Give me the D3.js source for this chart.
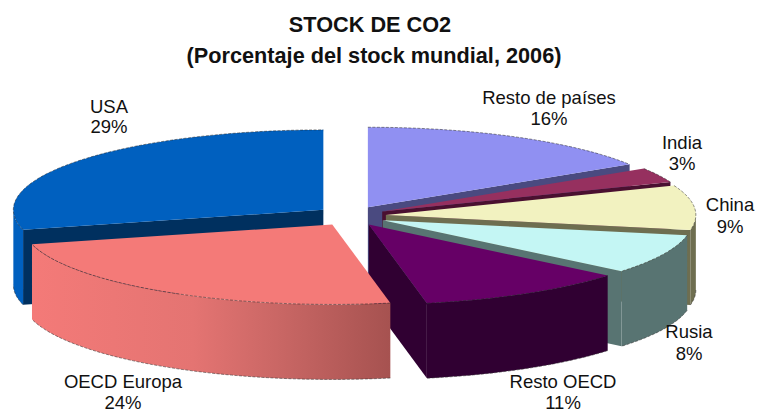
<!DOCTYPE html>
<html><head><meta charset="utf-8">
<style>html,body{margin:0;padding:0;background:#fff}svg{display:block}text{font-family:"Liberation Sans",Arial,sans-serif;fill:#111}</style>
<script src="https://cdn.jsdelivr.net/npm/d3@7"></script>
</head><body>
<svg id="c" width="757" height="414"></svg>
<script>
const categories=["Resto de países","India","China","Rusia","Resto OECD","OECD Europa","USA"];
const values=[16,3,9,8,11,24,29];
const topColors=["#9090f2","#96305f","#f2f2c0","#c4f6f4","#660066","#f47a78","#0060bf"];
const wallColors=["#4a4a80","#4a1030","#6e6e50","#587472","#300032","#f47a78","#00305f"];
const outerColors=["#4a4a80","#4a1030","#6e6e50","#587472","#300032","#f47a78","#0060bf"];
const drawOrder=["Resto de países","USA","India","China","Rusia","Resto OECD","OECD Europa"];
const titleLines=["STOCK DE CO2","(Porcentaje del stock mundial, 2006)"];

const cx=351,cy=216,rx=310,ry=80,ex=35,ey=10,depth=75;
const labelPos={"USA":[109,113,133],"OECD Europa":[123,388,409],"Resto de países":[549,104,125],"India":[682,149,170],"China":[730,211,233],"Rusia":[689,338,360],"Resto OECD":[563,388,409]};

const svg=d3.select("#c");
const defs=svg.append("defs");
const grad=defs.append("linearGradient").attr("id","oecdWall");
[[0,"#f47a78"],[0.45,"#e47472"],[0.7,"#c86664"],[1,"#a65250"]].forEach(s=>grad.append("stop").attr("offset",s[0]).attr("stop-color",s[1]));

const pie=d3.pie().sort(null).startAngle(0).endAngle(2*Math.PI);
const arcs=pie(values).map((d,i)=>({name:categories[i],value:d.value,a0:d.startAngle,a1:d.endAngle,i}));
const line=d3.line();
const step=Math.PI/180;
function samples(a0,a1){const n=Math.max(2,Math.ceil((a1-a0)/step));return d3.range(n+1).map(k=>a0+(a1-a0)*k/n);}

drawOrder.forEach(name=>{
  const s=arcs.find(a=>a.name===name);
  const mid=(s.a0+s.a1)/2;
  const ax=cx+ex*Math.sin(mid), ay=cy-ey*Math.cos(mid);
  const P=a=>[ax+rx*Math.sin(a),ay-ry*Math.cos(a)];
  const g=svg.append("g");
  const wall=a=>{const p=P(a);return line([[ax,ay],p,[p[0],p[1]+depth],[ax,ay+depth]])+"Z";};
  if(Math.sin(s.a0)<-1e-6) g.append("path").attr("d",wall(s.a0)).attr("fill",wallColors[s.i]);
  if(Math.sin(s.a1)>1e-6) g.append("path").attr("d",wall(s.a1)).attr("fill",wallColors[s.i]);
  const f0=Math.max(s.a0,Math.PI/2), f1=Math.min(s.a1,1.5*Math.PI);
  if(f1>f0){
    const up=samples(f0,f1).map(P);
    const down=up.map(p=>[p[0],p[1]+depth]).reverse();
    g.append("path").attr("d",line(up.concat(down))+"Z")
      .attr("fill",name==="OECD Europa"?"url(#oecdWall)":outerColors[s.i]);
    g.append("path").attr("d",line(up.map(p=>[p[0],p[1]+depth])))
      .attr("fill","none").attr("stroke","#333").attr("stroke-width",1).attr("stroke-dasharray","3 1.5").attr("opacity",.55);
  }
  const rim=samples(s.a0,s.a1).map(P);
  g.append("path").attr("d",line([[ax,ay]].concat(rim))+"Z").attr("fill",topColors[s.i]);
  g.append("path").attr("d",line(rim)).attr("fill","none").attr("stroke","#222").attr("stroke-width",1).attr("stroke-dasharray","3 1.5").attr("opacity",.5);
});

categories.forEach((c,i)=>{
  const p=labelPos[c];
  const t=svg.append("text").attr("text-anchor","middle").attr("font-size",18.5);
  t.append("tspan").attr("x",p[0]).attr("y",p[1]).text(c);
  t.append("tspan").attr("x",p[0]).attr("y",p[2]).text(values[i]+"%");
});
const titleY=[32,63], titleX=[370,374];
titleLines.forEach((l,i)=>svg.append("text").attr("x",titleX[i]).attr("y",titleY[i]).attr("text-anchor","middle")
  .attr("font-size",21.7).attr("font-weight","bold").text(l));
</script>
</body></html>
